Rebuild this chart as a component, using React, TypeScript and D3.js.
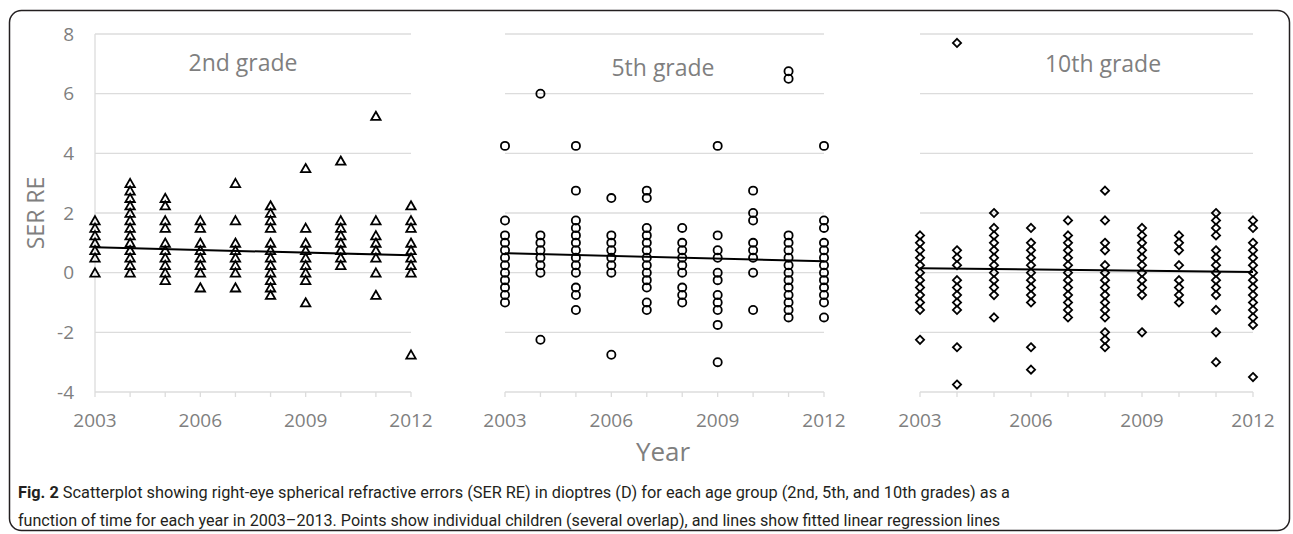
import * as d3 from "d3";

const WIDTH = 1293;
const HEIGHT = 534;

const YEARS = [2003, 2004, 2005, 2006, 2007, 2008, 2009, 2010, 2011, 2012];
const YEAR_TICKS = [2003, 2006, 2009, 2012];
const Y_TICKS = [-4, -2, 0, 2, 4, 6, 8];
const TITLES = ["2nd grade", "5th grade", "10th grade"];

// SER RE values per year (2003..2012)
const grade2 = [
  [1.75, 1.5, 1.25, 1, 0.75, 0.5, 0],
  [3, 2.75, 2.5, 2.25, 2, 1.75, 1.5, 1.25, 1, 0.75, 0.5, 0.25, 0],
  [2.5, 2.25, 1.75, 1.5, 1, 0.75, 0.5, 0.25, 0, -0.25],
  [1.75, 1.5, 1, 0.75, 0.5, 0.25, 0, -0.5],
  [3, 1.75, 1, 0.75, 0.5, 0.25, 0, -0.5],
  [2.25, 2, 1.75, 1.5, 1, 0.75, 0.5, 0.25, 0, -0.25, -0.5, -0.75],
  [3.5, 1.5, 1, 0.75, 0.5, 0.25, 0, -0.25, -1],
  [3.75, 1.75, 1.5, 1.25, 1, 0.75, 0.5, 0.25],
  [5.25, 1.75, 1.25, 1, 0.75, 0.5, 0, -0.75],
  [2.25, 1.75, 1.5, 1, 0.75, 0.5, 0.25, 0, -2.75],
];

const grade5 = [
  [4.25, 1.75, 1.25, 1, 0.75, 0.5, 0.25, 0, -0.25, -0.5, -0.75, -1],
  [6, 1.25, 1, 0.75, 0.5, 0.25, 0, -2.25],
  [4.25, 2.75, 1.75, 1.5, 1.25, 1, 0.75, 0.5, 0.25, 0, -0.5, -0.75, -1.25],
  [2.5, 1.25, 1, 0.75, 0.5, 0.25, 0, -2.75],
  [2.75, 2.5, 1.5, 1.25, 1, 0.75, 0.5, 0.25, 0, -0.25, -0.5, -1, -1.25],
  [1.5, 1, 0.75, 0.5, 0.25, 0, -0.5, -0.75, -1],
  [4.25, 1.25, 0.75, 0.5, 0, -0.25, -0.75, -1, -1.25, -1.75, -3],
  [2.75, 2, 1.75, 1, 0.75, 0.5, 0, -1.25],
  [6.75, 6.5, 1.25, 1, 0.75, 0.5, 0.25, 0, -0.25, -0.5, -0.75, -1, -1.25, -1.5],
  [4.25, 1.75, 1.5, 1, 0.75, 0.5, 0.25, 0, -0.25, -0.5, -0.75, -1, -1.5],
];

const grade10 = [
  [1.25, 1, 0.75, 0.5, 0.25, 0, -0.25, -0.5, -0.75, -1, -1.25, -2.25],
  [7.7, 0.75, 0.5, 0.25, -0.25, -0.5, -0.75, -1, -1.25, -2.5, -3.75],
  [2, 1.5, 1.25, 1, 0.75, 0.5, 0.25, 0, -0.25, -0.5, -0.75, -1.5],
  [1.5, 1, 0.75, 0.5, 0.25, 0, -0.25, -0.5, -0.75, -1, -2.5, -3.25],
  [1.75, 1.25, 1, 0.75, 0.5, 0.25, 0, -0.25, -0.5, -0.75, -1, -1.25, -1.5],
  [2.75, 1.75, 1, 0.75, 0.25, 0, -0.25, -0.5, -0.75, -1, -1.25, -1.5, -2, -2.25, -2.5],
  [1.5, 1.25, 1, 0.75, 0.5, 0.25, 0, -0.25, -0.5, -0.75, -2],
  [1.25, 1, 0.75, 0.25, -0.25, -0.5, -0.75, -1],
  [2, 1.75, 1.5, 1.25, 0.75, 0.5, 0.25, 0, -0.25, -0.5, -0.75, -1.25, -2, -3],
  [1.75, 1.5, 1, 0.75, 0.5, 0.25, 0, -0.25, -0.5, -0.75, -1, -1.25, -1.5, -1.75, -3.5],
];

// fitted regression line, value at 2003 and at 2012
const trend2 = [0.85, 0.58];
const trend5 = [0.65, 0.38];
const trend10 = [0.15, 0.02];

const PANELS = [
  { data: grade2, trend: trend2, x0: 95, x1: 411, marker: "triangle", titleX: 243, titleY: 71 },
  { data: grade5, trend: trend5, x0: 505, x1: 824, marker: "circle", titleX: 663, titleY: 76 },
  { data: grade10, trend: trend10, x0: 920, x1: 1253, marker: "diamond", titleX: 1103, titleY: 72 },
];

const GRID = "#dcdcdc";
const LABEL = "#7f7f7f";
const FONT = "'Open Sans', sans-serif";

const yScale = d3.scaleLinear().domain([-4, 8]).range([392, 34]);

const Marker = ({ kind, x, y }: { kind: string; x: number; y: number }) => {
  if (kind === "circle") {
    return <circle cx={x} cy={y} r={4.1} fill="none" stroke="#000" strokeWidth={1.8} />;
  }
  const d =
    kind === "triangle"
      ? "M0,-4.3L4.7,3.9L-4.7,3.9Z"
      : "M0,-4.1L4.1,0L0,4.1L-4.1,0Z";
  return (
    <path
      d={d}
      transform={`translate(${x},${y})`}
      fill="none"
      stroke="#000"
      strokeWidth={1.8}
      strokeLinejoin="miter"
    />
  );
};

const Panel = ({ panel, index }: { panel: (typeof PANELS)[number]; index: number }) => {
  const xScale = d3.scaleLinear().domain([2003, 2012]).range([panel.x0, panel.x1]);
  const [yBottom, yTop] = yScale.range();

  return (
    <g>
      {Y_TICKS.slice(1).map((v) => (
        <line
          key={v}
          x1={panel.x0}
          x2={panel.x1}
          y1={yScale(v)}
          y2={yScale(v)}
          stroke={GRID}
          strokeWidth={1.3}
        />
      ))}
      {index === 0 && (
        <line x1={panel.x0} x2={panel.x0} y1={yTop} y2={yBottom} stroke={GRID} strokeWidth={1.3} />
      )}
      <line x1={panel.x0} x2={panel.x1} y1={yBottom} y2={yBottom} stroke={GRID} strokeWidth={1.5} />
      {YEARS.map((yr) => (
        <line
          key={yr}
          x1={xScale(yr)}
          x2={xScale(yr)}
          y1={yBottom}
          y2={yBottom + 5}
          stroke={GRID}
          strokeWidth={1.3}
        />
      ))}
      {YEAR_TICKS.map((yr) => (
        <text
          key={yr}
          x={xScale(yr)}
          y={427}
          textAnchor="middle"
          fontFamily={FONT}
          fontSize={19}
          fill={LABEL}
        >
          {yr}
        </text>
      ))}
      <text
        x={panel.titleX}
        y={panel.titleY}
        textAnchor="middle"
        fontFamily={FONT}
        fontSize={23}
        fill={LABEL}
      >
        {TITLES[index]}
      </text>
      {panel.data.map((vals, i) =>
        vals.map((v, j) => (
          <Marker key={`${i}-${j}`} kind={panel.marker} x={xScale(YEARS[i])} y={yScale(v)} />
        ))
      )}
      <line
        x1={xScale(2003)}
        x2={xScale(2012)}
        y1={yScale(panel.trend[0])}
        y2={yScale(panel.trend[1])}
        stroke="#000"
        strokeWidth={2}
      />
    </g>
  );
};

export default function App() {
  return (
    <svg
      width={WIDTH}
      height={HEIGHT}
      style={{ position: "absolute", left: 0, top: 0, background: "#fff" }}
    >
      <rect x={9.5} y={10.5} width={1280} height={520} rx={12} fill="#fff" stroke="#231f20" strokeWidth={1.5} />

      {Y_TICKS.map((v) => (
        <text
          key={v}
          x={74}
          y={yScale(v)}
          dy="0.35em"
          textAnchor="end"
          fontFamily={FONT}
          fontSize={19}
          fill={LABEL}
        >
          {v}
        </text>
      ))}
      <text
        transform="translate(44,213) rotate(-90)"
        textAnchor="middle"
        fontFamily={FONT}
        fontSize={23}
        fill={LABEL}
      >
        SER RE
      </text>

      {PANELS.map((p, i) => (
        <Panel key={i} panel={p} index={i} />
      ))}

      <text x={663} y={461} textAnchor="middle" fontFamily={FONT} fontSize={26} fill={LABEL}>
        Year
      </text>

      <text
        x={18}
        y={498}
        fontFamily="'Roboto', sans-serif"
        fontSize={16}
        fill="#231f20"
        textLength={992}
        lengthAdjust="spacingAndGlyphs"
      >
        <tspan fontWeight="bold">Fig. 2</tspan> Scatterplot showing right-eye spherical refractive errors
        (SER RE) in dioptres (D) for each age group (2nd, 5th, and 10th grades) as a
      </text>
      <text
        x={18}
        y={526}
        fontFamily="'Roboto', sans-serif"
        fontSize={16}
        fill="#231f20"
        textLength={982}
        lengthAdjust="spacingAndGlyphs"
      >
        function of time for each year in 2003–2013. Points show individual children (several overlap),
        and lines show fitted linear regression lines
      </text>
    </svg>
  );
}
